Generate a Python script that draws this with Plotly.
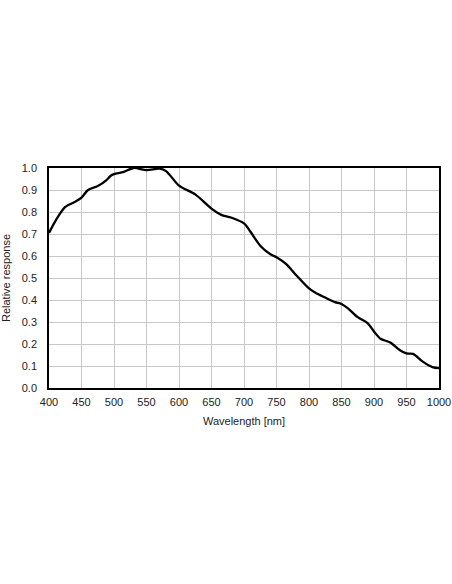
import plotly.graph_objects as go

# spectral response
wavelength = [400, 410, 425, 440, 450, 460, 475, 488, 495, 500, 515, 530, 550, 570, 580,
              600, 625, 650, 665, 680, 700, 710, 725, 740, 750, 765, 780, 800, 810, 825,
              840, 850, 860, 875, 890, 900, 910, 925, 940, 950, 960, 975, 990, 1000]
response = [0.705, 0.76, 0.823, 0.846, 0.865, 0.90, 0.918, 0.944, 0.965, 0.972, 0.982, 1.0,
            0.99, 0.997, 0.986, 0.92, 0.88, 0.815, 0.787, 0.775, 0.748, 0.71, 0.647, 0.609,
            0.594, 0.563, 0.514, 0.453, 0.433, 0.411, 0.39, 0.382, 0.362, 0.322, 0.295,
            0.257, 0.224, 0.207, 0.172, 0.157, 0.155, 0.12, 0.095, 0.09]

x_ticks = list(range(400, 1001, 50))
y_ticks = [round(i * 0.1, 1) for i in range(11)]

fig = go.Figure()
fig.add_trace(go.Scatter(
    x=wavelength, y=response, mode="lines",
    line=dict(color="black", width=2.3, shape="spline", smoothing=0.8),
    showlegend=False
))

fig.update_layout(
    width=452, height=584,
    paper_bgcolor="white", plot_bgcolor="white",
    margin=dict(l=49, r=13, t=168, b=196),
    font=dict(family="Liberation Sans, Arial, sans-serif", size=11, color="#222"),
    xaxis=dict(
        range=[400, 1000], tickvals=x_ticks, ticks="", showgrid=True,
        gridcolor="#c8c8c8", gridwidth=1, zeroline=False, automargin=False,
        showline=True, linecolor="black", linewidth=1.5, mirror=True,
        ticklabelstandoff=3,
        title=dict(text="Wavelength [nm]", font=dict(size=11), standoff=10),
    ),
    yaxis=dict(
        range=[0, 1.0], tickvals=y_ticks, tickformat=".1f", ticks="", showgrid=True,
        gridcolor="#c8c8c8", gridwidth=1, zeroline=False, automargin=False,
        showline=True, linecolor="black", linewidth=1.5, mirror=True,
        ticklabelstandoff=8,
        title=dict(text="Relative response", font=dict(size=11), standoff=10),
    ),
)

# drop the default 8px body margin so the figure sits at the page origin
fig.write_html("out.html", config={"displayModeBar": False},
               post_script="document.body.style.margin='0';")
